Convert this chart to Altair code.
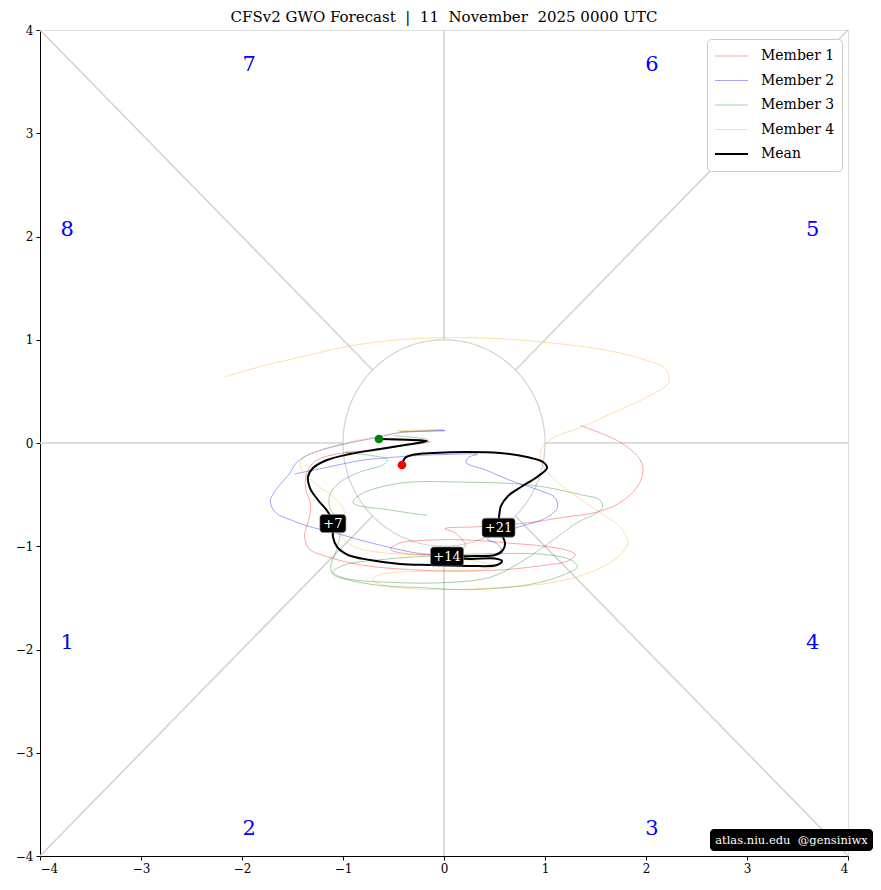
import altair as alt
import pandas as pd
import numpy as np

SERIF = "DejaVu Serif"

# ---------------- data ----------------
series_names = ["Member 1", "Member 2", "Member 3", "Member 4", "Mean"]
series_colors = ["red", "blue", "green", "orange", "black"]
series_opacity = [0.45, 0.45, 0.45, 0.45, 1.0]
series_width = [0.8, 0.8, 0.8, 0.8, 2.0]

m1_x = [-0.53, -0.14, -0.44, -0.83, -1.13, -1.28, -1.36, -1.37, -1.32, -1.34, -1.38, -1.34, -1.16, -0.83,
        -0.44, 0.06, 0.55, 0.95, 1.23, 1.30, 1.22, 1.00, 0.65, 0.26, -0.14, -0.44, -0.53, -0.39, -0.04,
        0.21, 0.11, 0.01, 0.36, 0.85, 1.18, 1.51, 1.74, 1.91, 1.97, 1.94, 1.74, 1.35]
m1_y = [0.03, 0.01, -0.03, -0.08, -0.12, -0.18, -0.29, -0.44, -0.60, -0.75, -0.89, -1.02, -1.10, -1.18,
        -1.22, -1.24, -1.23, -1.19, -1.14, -1.08, -1.04, -1.00, -0.97, -0.94, -0.94, -0.97, -1.03, -1.07, -1.07,
        -1.00, -0.87, -0.83, -0.81, -0.77, -0.72, -0.67, -0.58, -0.43, -0.28, -0.16, 0.01, 0.17]

m2_x = [-0.44, 0.01, -0.44, -0.63, -1.03, -1.31, -1.45, -1.54, -1.67, -1.72, -1.66, -1.50, -1.33, -1.08,
        -0.83, -0.50, -0.24, 0.11, 0.46, 0.58, 0.53, 0.43, 0.55, 0.75, 1.00, 1.12, 1.10, 0.95, 0.65,
        0.41, 0.22, 0.24, 0.33, 0.06, -0.24, -0.53, -0.83, -1.13, -1.48]
m2_y = [0.11, 0.12, 0.10, 0.06, -0.02, -0.10, -0.18, -0.31, -0.46, -0.57, -0.68, -0.75, -0.81, -0.87,
        -0.94, -1.02, -1.07, -1.09, -1.09, -1.06, -0.98, -0.93, -0.87, -0.81, -0.73, -0.63, -0.53, -0.46, -0.36,
        -0.26, -0.19, -0.14, -0.11, -0.11, -0.12, -0.14, -0.17, -0.23, -0.30]

m3_x = [-0.50, -0.16, -0.44, -0.73, -0.98, -0.73, -0.56, -0.60, -0.83, -1.03, -1.13, -1.13, -1.05, -1.03,
        -1.05, -1.08, -1.12, -1.10, -0.93, -0.63, -0.24, 0.26, 0.85, 1.15, 1.32, 1.25, 1.00, 0.55, -0.04,
        -0.63, -0.98, -1.10, -0.98, -0.53, 0.06, 0.46, 0.75, 1.08, 1.32, 1.51, 1.57, 1.54, 1.35, 0.88, 0.23,
        -0.44, -0.83, -0.90, -0.53, -0.17]
m3_y = [0.07, 0.03, -0.03, -0.08, -0.09, -0.12, -0.16, -0.21, -0.28, -0.38, -0.50, -0.63, -0.75, -0.87,
        -0.99, -1.08, -1.18, -1.27, -1.33, -1.38, -1.40, -1.42, -1.37, -1.29, -1.20, -1.13, -1.08, -1.07, -1.09,
        -1.13, -1.18, -1.25, -1.31, -1.35, -1.35, -1.30, -1.16, -0.94, -0.77, -0.68, -0.62, -0.55, -0.50, -0.41,
        -0.38, -0.39, -0.50, -0.58, -0.65, -0.70]

m4_x = [-0.47, -0.01, -0.44, -0.68, -0.98, -1.25, -1.41, -1.41, -1.28, -1.10, -0.99, -1.00, -1.01, -0.88,
        -0.63, -0.34, 0.01, 0.36, 0.50, 0.36, -0.04, -0.44, -0.65, -0.71, -0.58, -0.34, 0.06, 0.55, 0.95,
        1.30, 1.59, 1.76, 1.82, 1.74, 1.54, 1.30, 1.08, 0.96, 0.97, 1.10, 1.35, 1.69, 2.02, 2.22, 2.20,
        1.94, 1.54, 1.05, 0.55, 0.00, -0.44, -0.93, -1.43, -1.82, -2.17]
m4_y = [0.12, 0.13, 0.10, 0.06, 0.00, -0.08, -0.16, -0.26, -0.39, -0.52, -0.65, -0.79, -0.91, -1.01,
        -1.06, -1.08, -1.11, -1.15, -1.19, -1.23, -1.24, -1.25, -1.28, -1.33, -1.38, -1.41, -1.42, -1.40, -1.37,
        -1.30, -1.19, -1.07, -0.96, -0.81, -0.67, -0.51, -0.34, -0.18, -0.05, 0.06, 0.15, 0.30, 0.45, 0.58, 0.71,
        0.82, 0.91, 0.97, 1.01, 1.02, 1.00, 0.94, 0.83, 0.74, 0.64]

mean_x = [-0.644, -0.436, -0.168, -0.386, -0.634, -0.931, -1.158, -1.297, -1.347, -1.327, -1.248, -1.149,
          -1.099, -1.099, -1.059, -0.950, -0.733, -0.436, -0.139, 0.257, 0.525, 0.574, 0.505, 0.257, 0.030,
          0.307, 0.505, 0.584, 0.604, 0.564, 0.535, 0.545, 0.564, 0.634, 0.762, 0.921, 1.020, 0.980, 0.822,
          0.554, 0.228, -0.109, -0.317, -0.386, -0.416]
mean_y = [0.039, 0.034, 0.019, -0.019, -0.058, -0.107, -0.165, -0.242, -0.329, -0.436, -0.552, -0.668,
          -0.775, -0.910, -1.007, -1.085, -1.133, -1.172, -1.182, -1.191, -1.182, -1.143, -1.119, -1.123, -1.104,
          -1.094, -1.085, -1.036, -0.969, -0.872, -0.814, -0.717, -0.610, -0.513, -0.426, -0.329, -0.242, -0.184,
          -0.136, -0.097, -0.087, -0.097, -0.116, -0.145, -0.213]

day_labels = ["+7", "+14", "+21"]
day_x = [-1.10, 0.03, 0.54]
day_y = [-0.78, -1.10, -0.82]

phase_labels = ["1", "2", "3", "4", "5", "6", "7", "8"]
phase_x = [-3.73, -1.93, 2.06, 3.65, 3.65, 2.06, -1.93, -3.73]
phase_y = [-1.94, -3.74, -3.74, -1.94, 2.06, 3.66, 3.66, 2.06]

title_text = "CFSv2 GWO Forecast\u00a0\u00a0|\u00a0\u00a011\u00a0\u00a0November\u00a0\u00a02025 0000 UTC"
credit_text = "atlas.niu.edu\u00a0\u00a0@gensiniwx"

# ---------------- tables ----------------
rows = []
for name, xs_, ys_ in [("Member 1", m1_x, m1_y), ("Member 2", m2_x, m2_y),
                       ("Member 3", m3_x, m3_y), ("Member 4", m4_x, m4_y)]:
    for i, (a, b) in enumerate(zip(xs_, ys_)):
        rows.append({"series": name, "step": i, "x": a, "y": b})
members_df = pd.DataFrame(rows)
mean_df = pd.DataFrame({"series": "Mean", "step": range(len(mean_x)), "x": mean_x, "y": mean_y})

ends_df = pd.DataFrame({"x": [mean_x[0], mean_x[-1]], "y": [mean_y[0], mean_y[-1]],
                        "c": ["green", "red"]})

# phase-space guide lines (radius-1 circle out to the frame)
ang = np.deg2rad(np.arange(0, 360, 45))
r_out = np.where(np.arange(8) % 2 == 0, 4.0, 4.0 * np.sqrt(2))
div_df = pd.DataFrame({"x": np.cos(ang), "y": np.sin(ang),
                       "x2": r_out * np.cos(ang), "y2": r_out * np.sin(ang)})
th = np.linspace(0, 2 * np.pi, 241)
circ_df = pd.DataFrame({"x": np.cos(th), "y": np.sin(th), "i": np.arange(len(th))})

phase_df = pd.DataFrame({"t": phase_labels, "x": phase_x, "y": phase_y})
day_df = pd.DataFrame({"t": day_labels, "x": day_x, "y": day_y})

# ---------------- encodings ----------------
xs = alt.Scale(domain=[-4, 4], nice=False, zero=False)
ys = alt.Scale(domain=[-4, 4], nice=False, zero=False)
ax = alt.Axis(values=list(range(-4, 5)), grid=False, title=None, tickSize=4, labelFontSize=12,
              labelFont=SERIF, domainColor="black", tickColor="black", labelColor="black", labelPadding=3)
X = alt.X("x:Q", scale=xs, axis=ax)
Y = alt.Y("y:Q", scale=ys, axis=ax)

legend = alt.Legend(orient="none", legendX=667, legendY=9, title=None, symbolType="stroke",
                    symbolSize=1089, clipHeight=20, rowPadding=4.5, labelFontSize=14, labelFont=SERIF,
                    labelColor="black", padding=7, fillColor="white", strokeColor="#cccccc",
                    cornerRadius=4, labelOffset=12)
color = alt.Color("series:N", scale=alt.Scale(type="ordinal", domain=series_names, range=series_colors),
                  legend=legend)
opac = alt.Opacity("series:N", scale=alt.Scale(type="ordinal", domain=series_names, range=series_opacity),
                   legend=legend)
sw = alt.StrokeWidth("series:N", scale=alt.Scale(type="ordinal", domain=series_names, range=series_width),
                     legend=legend)

dividers = alt.Chart(div_df).mark_rule(color="#d3d3d3", strokeWidth=1.6).encode(
    x=X, y=Y, x2="x2:Q", y2="y2:Q")
circle = alt.Chart(circ_df).mark_line(color="#d3d3d3", strokeWidth=1.2).encode(x=X, y=Y, order="i:Q")
phases = alt.Chart(phase_df).mark_text(color="blue", fontSize=21, font=SERIF).encode(x=X, y=Y, text="t:N")

member_lines = alt.Chart(members_df).mark_line(interpolate="catmull-rom").encode(
    x=X, y=Y, order="step:Q", color=color, opacity=opac, strokeWidth=sw, detail="series:N")
mean_line = alt.Chart(mean_df).mark_line(interpolate="catmull-rom").encode(
    x=X, y=Y, order="step:Q", color=color, opacity=opac, strokeWidth=sw)

ends = alt.Chart(ends_df).mark_circle(size=75, opacity=1).encode(
    x=X, y=Y, color=alt.Color("c:N", scale=None))

box7 = alt.Chart(day_df[day_df.t == "+7"]).mark_rect(
    color="black", stroke="#888888", strokeWidth=0.6, cornerRadius=3,
    xOffset=-13, x2Offset=13, yOffset=-9, y2Offset=9).encode(x=X, y=Y, x2="x:Q", y2="y:Q")
box14 = alt.Chart(day_df[day_df.t != "+7"]).mark_rect(
    color="black", stroke="#888888", strokeWidth=0.6, cornerRadius=3,
    xOffset=-16.5, x2Offset=16.5, yOffset=-9.5, y2Offset=9.5).encode(x=X, y=Y, x2="x:Q", y2="y:Q")
day_text = alt.Chart(day_df).mark_text(color="white", fontSize=13, font=SERIF).encode(x=X, y=Y, text="t:N")

credit_box = alt.Chart(pd.DataFrame({"a": [0]})).mark_rect(color="black", cornerRadius=4).encode(
    x=alt.value(670), x2=alt.value(833), y=alt.value(799), y2=alt.value(821))
credit = alt.Chart(pd.DataFrame({"t": [credit_text]})).mark_text(
    color="white", fontSize=11.5, font=SERIF).encode(x=alt.value(751.5), y=alt.value(810.5), text="t:N")

title = alt.Chart(pd.DataFrame({"t": [title_text]})).mark_text(
    color="black", fontSize=15, font=SERIF, baseline="middle").encode(
    x=alt.value(404), y=alt.value(-13), text="t:N")

chart = alt.layer(
    dividers, circle, phases, member_lines, mean_line, ends, box7, box14, day_text, credit_box, credit, title
).properties(
    width=808, height=826,
    autosize=alt.AutoSizeParams(type="none"),
    padding={"left": 32, "top": 22, "right": 25, "bottom": 26},
).configure_view(stroke="black", strokeWidth=1).configure(background="white")

chart.save("out.html", embed_options={"renderer": "svg", "actions": False})
